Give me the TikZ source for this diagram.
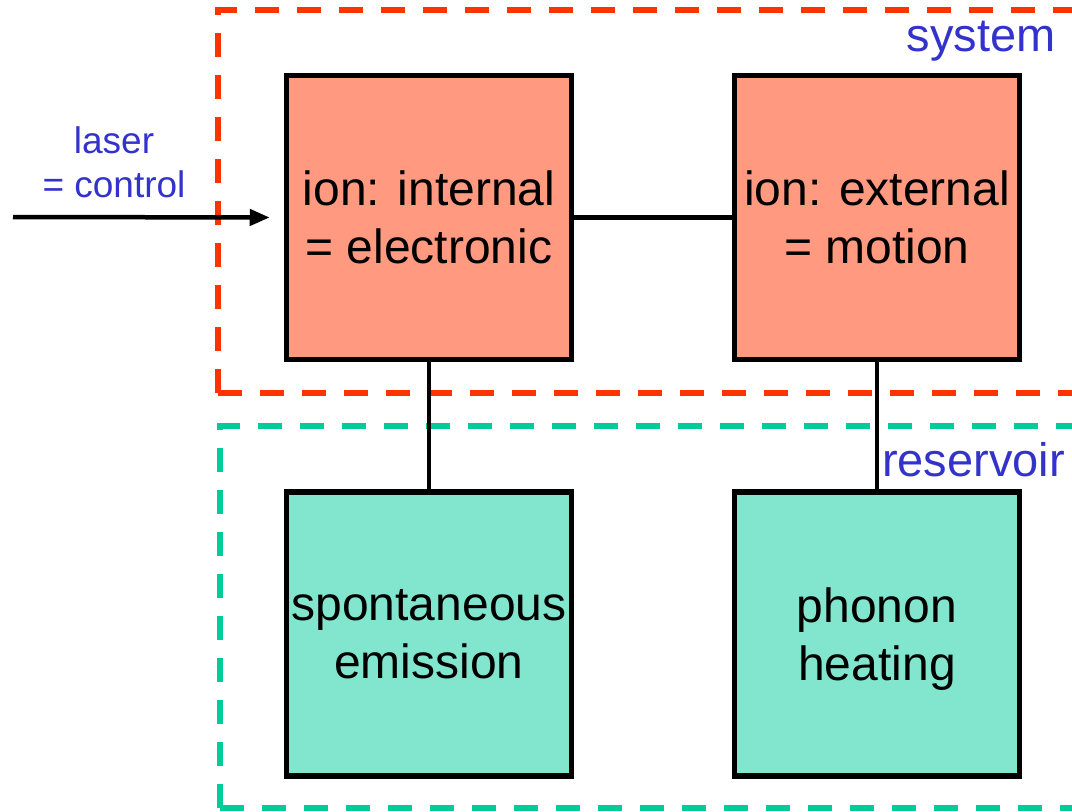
\documentclass[tikz,border=0pt]{standalone}
\usepackage{fontspec}
\setmainfont{Liberation Sans}
\usetikzlibrary{arrows.meta}
\definecolor{sysred}{HTML}{FF3300}
\definecolor{resgreen}{HTML}{00CC99}
\definecolor{sysfill}{HTML}{FF9A80}
\definecolor{resfill}{HTML}{82E6CF}
\definecolor{labelblue}{HTML}{3333CC}
\tikzset{
  block/.style={draw=black, line width=5.5pt, minimum width=285pt, minimum height=284pt,
    inner sep=0pt, align=center, font=\fontsize{48}{58}\selectfont},
  sysblock/.style={block, fill=sysfill},
  resblock/.style={block, fill=resfill},
  region/.style={line width=5.5pt, dash pattern=on 24pt off 18pt},
  link/.style={draw=black, line width=4.5pt},
  tag/.style={text=labelblue, inner sep=0pt, font=\fontsize{47}{56}\selectfont},
}
\begin{document}
\begin{tikzpicture}[x=1pt, y=-1pt]
  \useasboundingbox (0,0) rectangle (1072,812);
  \clip (0,0) rectangle (1072,812);

  % dashed regions: system (top) and reservoir (bottom), open to the right
  \draw[region, sysred] (218,393) -- (218,10) -- (1100,10);
  \draw[region, sysred] (218,393) -- (1100,393);
  \draw[region, resgreen] (220,808) -- (220,426) -- (1100,426);
  \draw[region, resgreen] (220,808) -- (1100,808);

  % blocks (last line smashed so descenders do not shift the text)
  \node[sysblock] (internal) at (429,217.5) {ion: internal\\\smash{= electronic}};
  \node[sysblock] (external) at (877,217.5) {ion: external\\\smash{= motion}};
  \node[resblock] (spont) at (429,634) {spontaneous\\\smash{emission}};
  \node[resblock] (phonon) at (877,634) {phonon\\\smash{heating}};

  % couplings
  \draw[link] (internal.east) -- (external.west);
  \draw[link] (internal.south) -- (spont.north);
  \draw[link] (external.south) -- (phonon.north);

  % laser input
  \coordinate (laserstart) at (13,217);
  \draw[line width=4.5pt, -{Triangle[length=20pt,width=16pt]}, shorten >=14pt]
    (laserstart) -- (internal.west);
  \node[text=labelblue, align=center, font=\fontsize{37}{44}\selectfont, inner sep=0pt]
    (laser) at (114,162) {laser\\= control};

  % region labels
  \node[tag, anchor=east] (systag) at (1056,41) {system};
  \node[tag, anchor=west] (restag) at (882,460) {reservoir};
\end{tikzpicture}
\end{document}
